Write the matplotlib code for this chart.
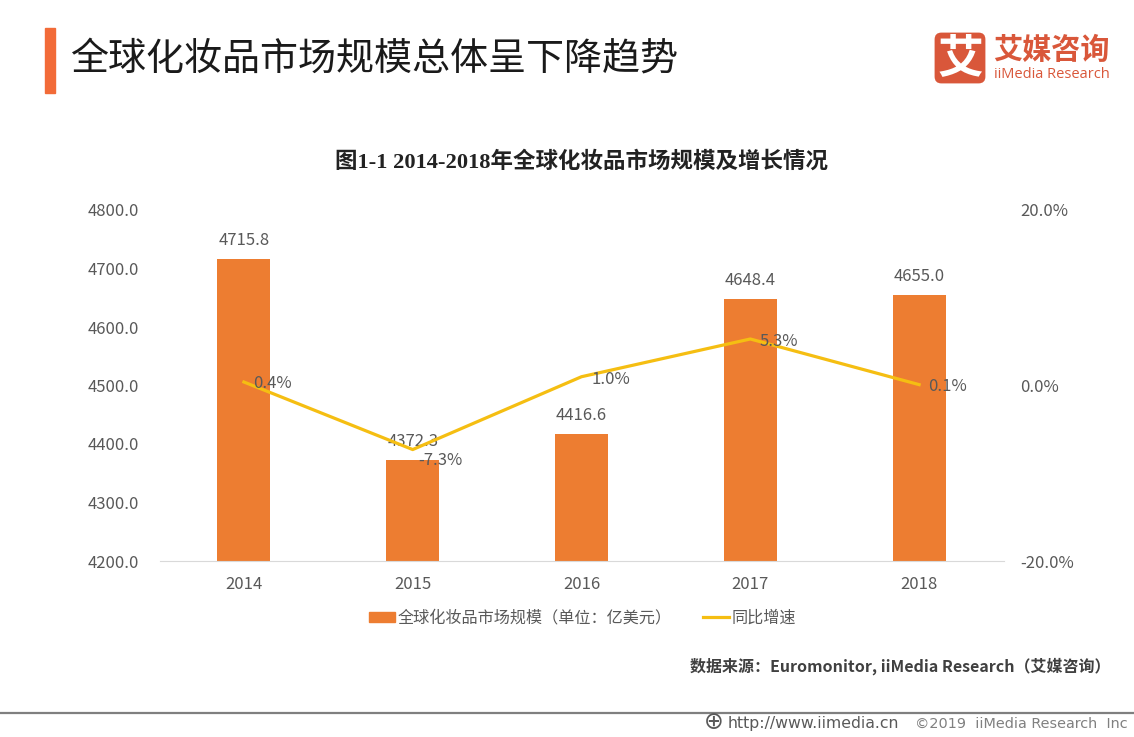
import matplotlib
matplotlib.use('Agg')
import matplotlib.pyplot as plt
from matplotlib.patches import Rectangle, FancyBboxPatch
from matplotlib.lines import Line2D

plt.rcParams['font.family'] = ['Noto Sans CJK SC', 'DejaVu Sans']

years = ['2014', '2015', '2016', '2017', '2018']
market = [4715.8, 4372.3, 4416.6, 4648.4, 4655.0]
growth = [0.4, -7.3, 1.0, 5.3, 0.1]
left_ticks = [4200, 4300, 4400, 4500, 4600, 4700, 4800]
right_ticks = [-20, 0, 20]

W, H = 1134, 737
fig = plt.figure(figsize=(W/100, H/100), dpi=100, facecolor='white')
def fx(x): return x/W
def fy(y): return 1-y/H

ax = fig.add_axes([fx(159.5), fy(561), (1003.5-159.5)/W, (561-210)/H])
ax2 = ax.twinx()
BAR = '#ED7D31'; LINE = '#F5BE12'; TXT = '#595959'

ax.bar(range(5), market, width=0.314, color=BAR, zorder=2)
ax.set_xlim(-0.5, 4.5); ax.set_ylim(4200, 4800)
ax.set_yticks(left_ticks); ax.set_yticklabels([f'{v:.1f}' for v in left_ticks])
ax.set_xticks(range(5)); ax.set_xticklabels(years)
ax.tick_params(axis='both', length=0, labelsize=12, labelcolor=TXT)
ax.tick_params(axis='y', pad=15)
ax.tick_params(axis='x', pad=11)
for s in ['top', 'left', 'right']:
    ax.spines[s].set_visible(False); ax2.spines[s].set_visible(False)
ax.spines['bottom'].set_color('#D9D9D9'); ax2.spines['bottom'].set_visible(False)

ax2.plot(range(5), growth, color=LINE, lw=2.3, zorder=3)
ax2.set_ylim(-20, 20); ax2.set_yticks(right_ticks)
ax2.set_yticklabels([f'{v:.1f}%' for v in right_ticks])
ax2.tick_params(axis='y', length=0, labelsize=12, labelcolor=TXT, pad=12)

for i, v in enumerate(market):
    ax.annotate(f'{v:.1f}', (i, v), xytext=(0, 10), textcoords='offset pixels',
                ha='center', va='bottom', fontsize=12, color=TXT, zorder=5)
offs = [(29, -2), (28, -11), (29, -3), (29, -3), (28, -2)]
for i, v in enumerate(growth):
    ax2.annotate(f'{v:.1f}%', (i, v), xytext=offs[i], textcoords='offset pixels',
                 ha='center', va='center', fontsize=12, color=TXT, zorder=5)

handles = [Rectangle((0, 0), 1, 1, color=BAR), Line2D([0], [0], color=LINE, lw=2.3)]
fig.legend(handles, ['全球化妆品市场规模（单位：亿美元）', '同比增速'], loc='center',
           bbox_to_anchor=(fx(582.5), fy(618)), ncol=2, frameon=False, fontsize=11.6,
           labelcolor=TXT, handlelength=1.6, handleheight=0.55, handletextpad=0.15, columnspacing=2.0)

fig.add_artist(Rectangle((fx(45), fy(93)), 10/W, 65/H, color='#F26B38', transform=fig.transFigure))
fig.text(fx(70), fy(59), '全球化妆品市场规模总体呈下降趋势', fontsize=27.4, color='#1A1A1A', va='center', ha='left')
fig.text(fx(581), fy(162), '图1-1 2014-2018年全球化妆品市场规模及增长情况', fontsize=16.2, fontweight='bold',
         color='#222222', ha='center', va='center', family=['Liberation Serif', 'Noto Sans CJK SC'])

# logo
fig.add_artist(FancyBboxPatch((fx(938), fy(80)), 44/W, 44/H, boxstyle='round,pad=0.003,rounding_size=0.006',
                              mutation_aspect=W/H, fc='#D9573A', ec='none', transform=fig.transFigure))
fig.text(fx(960), fy(59), '艾', fontsize=33, fontweight='bold', color='white', ha='center', va='center')
fig.text(fx(993), fy(50), '艾媒咨询', fontsize=21, fontweight='bold', color='#D9573A', ha='left', va='center')
fig.text(fx(994), fy(74), 'iiMedia Research', fontsize=10.5, color='#D9573A', ha='left', va='center',
         family=['Open Sans', 'Noto Sans CJK SC'])

fig.text(fx(690), fy(666), '数据来源：Euromonitor, iiMedia Research（艾媒咨询）', fontsize=11.5, fontweight='bold',
         color='#404040', ha='left', va='center')

fig.add_artist(Line2D([0, 1], [fy(712.5)]*2, color='#7F7F7F', lw=1.6, transform=fig.transFigure))
fig.text(fx(704), fy(722), '⊕', fontsize=17, color='#595959', ha='left', va='center', family='DejaVu Sans')
fig.text(fx(728), fy(723.5), 'http://www.iimedia.cn', fontsize=11.3, color='#595959', ha='left', va='center', family='DejaVu Sans')
fig.text(fx(915), fy(723.5), '©2019  iiMedia Research  Inc', fontsize=10.4, color='#808080', ha='left', va='center', family='DejaVu Sans')

fig.savefig('out.png', dpi=100, facecolor='white')
